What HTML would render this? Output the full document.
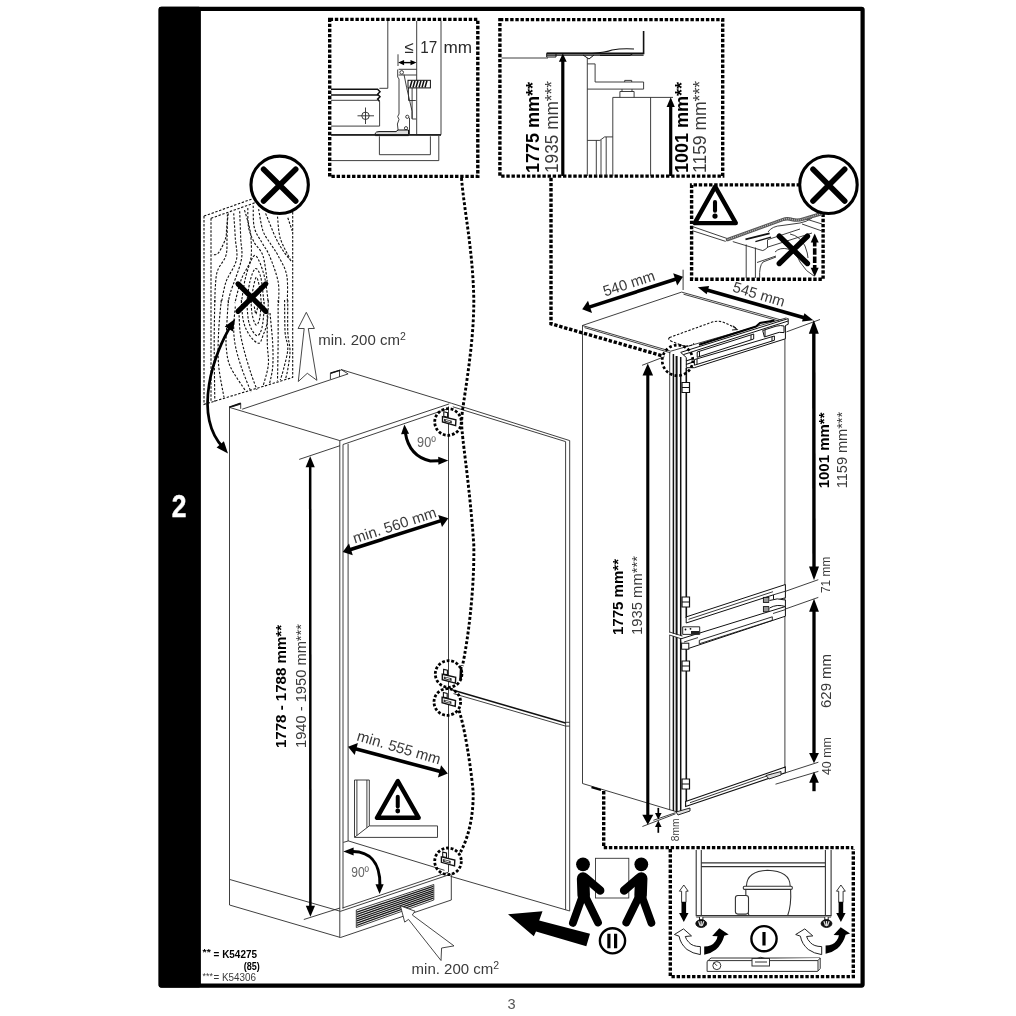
<!DOCTYPE html>
<html><head><meta charset="utf-8"><title>Installation dimensions</title>
<style>
html,body{margin:0;padding:0;background:#fff;}
body{width:1016px;height:1016px;overflow:hidden;}
svg{display:block;font-family:"Liberation Sans",sans-serif;will-change:transform;}
.t{fill:none;stroke:#2a2a2a;stroke-width:0.9;}
.t2{fill:none;stroke:#1a1a1a;stroke-width:1.4;}
.k{fill:none;stroke:#000;stroke-width:2.6;}
.ka{fill:none;stroke:#000;stroke-width:3.2;}
.dot{fill:none;stroke:#000;stroke-width:3.4;stroke-dasharray:3.4 1.75;}
.dotc{fill:none;stroke:#000;stroke-width:2.9;stroke-dasharray:2.9 2;}
.dsh{fill:none;stroke:#111;stroke-width:1.1;stroke-dasharray:2.4 1.6;}
.b{font-weight:bold;fill:#000;}
.g{fill:#3a3a3a;}
.w{fill:#fff;stroke:#2a2a2a;stroke-width:0.9;}
</style></head><body>
<svg width="1016" height="1016" viewBox="0 0 1016 1016">
<!-- FRAME -->
<g id="frame">
<rect x="158.6" y="6.7" width="42.3" height="980.8" rx="2" fill="#000"/>
<rect x="160.7" y="8.8" width="701.9" height="976.8" rx="1" fill="none" stroke="#000" stroke-width="4.2"/>
<text transform="translate(179.1,516.6) scale(0.84,1)" font-size="31.5" font-weight="bold" fill="#fff" stroke="#fff" stroke-width="0.5" text-anchor="middle">2</text>
<text x="511.6" y="1008.5" font-size="14.6" fill="#555" text-anchor="middle">3</text>
</g>
<g id="wood">
<g class="dsh">
<path d="M204,216.1 L292.7,184.5 M204,216.1 V404.4 L292.7,377.4 V187"/>
<path d="M211,218.3 L289.5,190.5 M211,218.3 V402"/>
<path d="M228.3,213.4 C228,215.7 227.1,223.3 226.7,227.5 C226.2,231.6 226.8,234.3 225.6,238.3 C224.4,242.3 221.3,248.6 219.6,251.3 C218,254 217.1,254 215.9,254.5 C214.6,255 212.7,254.3 212.1,254.3"/>
<path d="M227.4,214.5 C227.4,218.4 227.3,231.4 227,238.3 C226.8,245.1 227.5,250.2 225.9,255.6 C224.3,261 219.2,265.5 217.5,270.8 C215.7,276 215.8,281.6 215.3,287 C214.9,292.4 214.9,300.5 214.8,303.2"/>
<path d="M233.7,213.4 C234,217.5 234.9,230.5 235.3,238.3 C235.8,246 238,252.7 236.4,259.9 C234.9,267.2 228.7,274.4 226.1,281.6 C223.6,288.8 222.1,299.6 221.3,303.2"/>
<path d="M239.7,211.2 C239.8,215.7 240.5,230.2 240.7,238.3 C241,246.4 243,250.9 241.3,259.9 C239.6,269 232.6,285.2 230.5,292.4 C228.3,299.6 228.7,301.4 228.3,303.2"/>
<path d="M244.5,210.2 C245.3,212.7 247.8,220.6 248.9,225.3 C249.9,230 250.8,232.5 251,238.3 C251.3,244.1 252.1,253.1 250.5,259.9 C248.9,266.8 243.9,272.2 241.3,279.4 C238.7,286.6 235.9,299.3 234.8,303.2"/>
<path d="M247.8,208 C247.9,211.2 247.6,221.7 248.6,227.5 C249.7,233.2 251.9,237.9 254.3,242.6 C256.7,247.3 260.8,249.1 262.9,255.6 C265.1,262.1 266.5,277.3 267.3,281.6"/>
<path d="M253.2,205.8 C253.4,209.4 252.8,221.3 254.3,227.5 C255.7,233.6 259.3,237.9 261.9,242.6 C264.4,247.3 266.7,249.1 269.4,255.6 C272.1,262.1 276.6,273.6 278.1,281.6 C279.6,289.5 278.5,299.6 278.6,303.2"/>
<path d="M258.6,209.1 C259.3,212.7 261,224.9 262.9,230.7 C264.9,236.5 268,239.6 270.5,243.7 C273,247.8 275.4,250.4 278.1,255.6 C280.8,260.8 285.2,267.2 286.7,275.1 C288.3,283 287.2,298.5 287.3,303.2"/>
<path d="M265.6,213.4 C267.4,217.5 272.9,232 275.9,238.3 C278.9,244.6 281,247.5 283.5,251.3 C286,255.1 289.8,259.4 291.1,261"/>
<path d="M277.5,216.6 C278,220.3 278.2,231.3 280.3,238.3 C282.3,245.3 288.4,255.4 290,258.9"/>
<path d="M287.8,217.7 L292.2,230.7"/>
<path d="M241.3,303.2 C242,298.9 243.6,285 245.6,277.3 C247.6,269.5 251,259.6 253.2,256.7 C255.4,253.8 256.6,256.1 258.6,259.9 C260.6,263.7 263.5,272.2 265.1,279.4 C266.7,286.6 267.8,299.3 268.3,303.2"/>
<path d="M246.7,303.2 C247.2,299.6 248.5,287.4 249.9,281.6 C251.4,275.8 253.6,269.3 255.4,268.6 C257.2,267.9 259.3,271.5 260.8,277.3 C262.2,283 263.5,298.9 264,303.2"/>
<path d="M251,303.2 C251.4,300.7 252.3,292.4 253.2,288.1 C254.1,283.7 255.4,277.3 256.4,277.3 C257.5,277.3 258.9,283.7 259.7,288.1 C260.5,292.4 261,300.7 261.3,303.2"/>
<path d="M214.8,300 C214.7,307.2 214.2,326.3 214.2,343.3 C214.2,360.2 214.7,392 214.8,401.7"/>
<path d="M221.3,300 C220.8,305.4 219,321.6 218.6,332.5 C218.1,343.3 217.7,354.1 218.6,364.9 C219.5,375.8 223.1,392 224,397.4"/>
<path d="M228.3,300 C228,305.4 226.7,324.4 226.4,332.5 C226,340.6 225.7,342.9 226.4,348.7 C227,354.5 227.3,360.1 230.5,367.1 C233.7,374.1 243.1,386.9 245.6,390.9"/>
<path d="M235.3,306.5 C235.1,309.9 233.7,320.6 233.7,327.1 C233.7,333.5 234.1,338.8 235.3,345.5 C236.6,352.1 238.7,359.3 241.3,367.1 C243.9,374.9 249.4,387.8 251,392"/>
<path d="M239.1,315.2 C239.3,318 239.3,326.3 240.2,332.5 C241.1,338.6 242.7,345.1 244.5,351.9 C246.3,358.8 249,367.3 251,373.6 C253.1,379.9 256,387.1 257,389.8"/>
<path d="M267.3,310.8 C267.3,316.2 267.1,334.3 267.3,343.3 C267.4,352.3 269.1,357.7 268.3,364.9 C267.6,372.2 263.8,383 262.9,386.6"/>
<path d="M270,313 C270.4,318 272.2,334.3 272.7,343.3 C273.1,352.3 273.2,360.2 272.7,367.1 C272.1,374 270,381.5 269.4,384.4"/>
<path d="M278.1,300 C278.1,307.2 278.2,329.9 278.1,343.3 C278,356.7 277.6,374.4 277.5,380.6"/>
<path d="M284.6,300 C284.7,305.4 284.6,324.4 285.1,332.5 C285.7,340.6 288.1,342.6 287.8,348.7 C287.6,354.8 284.8,364 283.5,369.3 C282.2,374.5 280.8,378.3 280.3,380.1"/>
<path d="M287.8,300 C287.8,305.4 287.5,324 287.8,332.5 C288.2,340.9 290,344.7 290,350.9 C290,357 288.5,364.7 287.8,369.3 C287.1,373.9 286,376.9 285.7,378.5"/>
<path d="M241.3,300 C241.7,303.6 242,315.7 243.5,321.6 C244.9,327.6 247.4,332.1 249.9,335.7 C252.5,339.3 256.4,343.3 258.6,343.3 C260.8,343.3 261.5,339.3 262.9,335.7 C264.4,332.1 266.4,327.6 267.3,321.6 C268.2,315.7 268.2,303.6 268.3,300"/>
<path d="M246.7,300 C247,303.2 247.4,314.4 248.3,319.5 C249.2,324.5 250.6,327.6 252.1,330.3 C253.6,333 255.9,336.1 257.5,335.7 C259.1,335.4 260.8,332.3 261.9,328.1 C262.9,324 263.7,315.5 264,310.8 C264.4,306.1 264,301.8 264,300"/>
<path d="M251,300 C251.2,302.3 251.3,309.9 252.1,314.1 C252.9,318.2 254.6,324.2 255.9,324.9 C257.2,325.6 258.8,322.5 259.7,318.4 C260.6,314.2 261,303.1 261.3,300"/>
<path d="M254.3,306.5 C254.5,307.8 255.4,313.9 255.9,314.1 C256.4,314.2 257.3,308.7 257.5,307.6"/>
</g>
<circle cx="279.65" cy="184.8" r="28.7" fill="#fff" stroke="#000" stroke-width="3.1"/>
<path d="M263.6,169.2 L295.7,201 M295.7,169.2 L263.6,201" stroke="#000" stroke-width="5.6" stroke-linecap="round"/>
<path d="M238,283.9 L265.8,311.3 M265.8,283.9 L238,311.3" stroke="#000" stroke-width="5.2" stroke-linecap="round"/>
<path d="M232,324 C214,352 192,415 223.5,448" fill="none" stroke="#000" stroke-width="2.7"/>
<path d="M235.2,318.8 L232.9,331.5 L224.8,326.5 z" fill="#000"/>
<path d="M228,453.5 L216.6,447.4 L223.9,441.3 z" fill="#000"/>
<path d="M306.3,312.3 L314.4,328.5 H308.3 L316.9,380.3 L307.3,373.3 L298.3,381.5 L304.2,328.5 H298.1 z" fill="#fff" stroke="#333" stroke-width="0.9"/>
<text class="g" x="318.2" y="344.8" font-size="15">min. 200 cm<tspan font-size="10.5" dy="-5">2</tspan></text>
</g>
<g id="cabinet">
<g class="t">
<path d="M242.2,409.2 L348.1,373.9 M341,369.5 L451.6,403.3"/>
<path d="M229.2,407.3 L339.8,440.6 L449.2,403.9"/>
<path d="M343,444.5 L448,408.7"/>
<path d="M229.2,407.3 L240.7,403.3 V408.8 M232.7,406.6 L240.7,404.2"/>
<path d="M330.4,379.3 V373.3 L340.4,370.1 M339.5,370.4 V377 M341,369.5 L348.1,373.9"/>
<path d="M229.2,407.3 L240.7,403.3 M330.4,373.3 L340.4,370.1" stroke="#111" stroke-width="1.5"/>
<path d="M229.5,407.3 V905 L340.5,937.5 L451.3,900 V874.5"/>
<path d="M229.8,879.5 L340.5,911.3 L451.3,874"/>
<path d="M339.8,440.6 V937.5"/>
<path d="M343,444.5 V908.5"/>
<path d="M348.1,443.8 V841 L343.3,842.4"/>
<path d="M342.5,908 L448,872.3"/>
<path d="M448.5,406.5 V872.3"/>
<path d="M348,840.8 L444.5,870.3"/>
</g>
<g class="t">
<path d="M451.6,403.3 L569.7,440.6 V911 L450.5,876.3"/>
<path d="M452.8,406.8 L565.6,441.6 V909.8"/>
<path d="M453.5,693.6 L565.6,726.1 M565.6,722.3 H569.7 M565.6,726.1 H569.7"/>
<path d="M452.5,690 L565.6,723" stroke="#111" stroke-width="1.5"/>
</g>
<path class="t" d="M299.2,459.4 L340,445.7 M303.8,919.5 L340,908"/>
<path d="M310.2,456.2 L305.6,467.2 L314.8,467.2 z" fill="#000"/>
<path d="M310.4,916.8 L305.8,905.8 L315,905.8 z" fill="#000"/>
<path d="M310.2,466.2 L310.4,906.8" stroke="#000" stroke-width="2.5" fill="none"/>
<text class="b" transform="translate(286.3,748) rotate(-90)" font-size="15" textLength="123" lengthAdjust="spacingAndGlyphs">1778 - 1788 mm**</text>
<text class="g" transform="translate(306,748) rotate(-90)" font-size="15" textLength="124" lengthAdjust="spacingAndGlyphs">1940 - 1950 mm***</text>
<path d="M342.7,552 L352.8,555.3 L349,543.4 z" fill="#000"/>
<path d="M448.3,518.3 L442,526.9 L438.2,515 z" fill="#000"/>
<path d="M349.9,549.7 L441.1,520.6" stroke="#000" stroke-width="3.6" fill="none"/>
<text class="g" transform="translate(354.8,543.6) rotate(-18)" font-size="15" textLength="87" lengthAdjust="spacingAndGlyphs">min. 560 mm</text>
<path d="M348,746.8 L354.7,755.1 L357.9,743 z" fill="#000"/>
<path d="M447.8,773.6 L437.9,777.4 L441.1,765.3 z" fill="#000"/>
<path d="M355.3,748.8 L440.5,771.6" stroke="#000" stroke-width="3.6" fill="none"/>
<text class="g" transform="translate(356,740.3) rotate(16.3)" font-size="15" textLength="86.5" lengthAdjust="spacingAndGlyphs">min. 555 mm</text>
<path d="M405.3,432.5 C408,450 417,458 430.4,461 L439,460.8" fill="none" stroke="#000" stroke-width="3"/>
<path d="M404.4,424.4 L409.1,433.7 L401.1,434.3 z" fill="#000"/>
<path d="M448.3,460.5 L438.4,464.7 L438.2,456.7 z" fill="#000"/>
<text x="417.1" y="446.6" font-size="14" fill="#666" textLength="18.7" lengthAdjust="spacingAndGlyphs">90º</text>
<path d="M353,851.5 C368,851.8 380.3,860.5 379.9,885" fill="none" stroke="#000" stroke-width="3"/>
<path d="M343.3,851.5 L353.6,847.5 L353.6,855.5 z" fill="#000"/>
<path d="M379.6,894 L375.5,884.3 L383.7,884.3 z" fill="#000"/>
<text x="351.2" y="876.9" font-size="14" fill="#666" textLength="17.8" lengthAdjust="spacingAndGlyphs">90º</text>
<path d="M443.8,411.8 l3.8,0.9 v4.6 l-3.8,-0.9 z" fill="#fff" stroke="#111" stroke-width="1.1"/>
<path d="M442.5,416.6 L455.9,419.8 L455.6,425.6 L442.5,422 z" fill="#fff" stroke="#111" stroke-width="1.4"/>
<path d="M444,418.8 L451.8,420.7 L451.8,423.4 L444,421.4 z" fill="#333"/>
<path d="M445.8,420.4 L450.2,421.6" stroke="#fff" stroke-width="0.9"/>
<circle cx="448" cy="422" r="13.3" fill="none" stroke="#000" stroke-width="2.8" stroke-dasharray="2.8 1.84"/>
<path d="M443.6,669.4 l3.8,0.9 v4.6 l-3.8,-0.9 z" fill="#fff" stroke="#111" stroke-width="1.1"/>
<path d="M442.3,674.2 L455.7,677.4 L455.4,683.2 L442.3,679.6 z" fill="#fff" stroke="#111" stroke-width="1.4"/>
<path d="M443.8,676.4 L451.6,678.3 L451.6,681 L443.8,679 z" fill="#333"/>
<path d="M445.6,678 L450,679.2" stroke="#fff" stroke-width="0.9"/>
<circle cx="448.6" cy="674" r="13.3" fill="none" stroke="#000" stroke-width="2.8" stroke-dasharray="2.8 1.84"/>
<path d="M443.4,692.5 l3.8,0.9 v4.6 l-3.8,-0.9 z" fill="#fff" stroke="#111" stroke-width="1.1"/>
<path d="M442.1,697.3 L455.5,700.5 L455.2,706.3 L442.1,702.7 z" fill="#fff" stroke="#111" stroke-width="1.4"/>
<path d="M443.6,699.5 L451.4,701.4 L451.4,704.1 L443.6,702.1 z" fill="#333"/>
<path d="M445.4,701.1 L449.8,702.3" stroke="#fff" stroke-width="0.9"/>
<circle cx="447.3" cy="702" r="13.3" fill="none" stroke="#000" stroke-width="2.8" stroke-dasharray="2.8 1.84"/>
<path d="M442.7,852.1 l3.8,0.9 v4.6 l-3.8,-0.9 z" fill="#fff" stroke="#111" stroke-width="1.1"/>
<path d="M441.4,856.9 L454.8,860.1 L454.5,865.9 L441.4,862.3 z" fill="#fff" stroke="#111" stroke-width="1.4"/>
<path d="M442.9,859.1 L450.7,861 L450.7,863.7 L442.9,861.7 z" fill="#333"/>
<path d="M444.7,860.7 L449.1,861.9" stroke="#fff" stroke-width="0.9"/>
<circle cx="448" cy="861.3" r="13.3" fill="none" stroke="#000" stroke-width="2.8" stroke-dasharray="2.8 1.84"/>
<g class="t">
<path d="M354.5,780 V837.4 H437.5 V825.9 H369.3 V780 z" fill="#fff"/>
<path d="M356.9,780 V835.5 M354.8,837.1 L369.3,825.9 M366.9,780 V827.8"/>
</g>
<path d="M397.8,781.1 L377,817.8 H418.7 z" fill="#fff" stroke="#000" stroke-width="4.4" stroke-linejoin="round"/>
<path d="M397.75,796.7 V806.4" stroke="#000" stroke-width="4" stroke-linecap="round"/><circle cx="397.75" cy="811" r="2.4" fill="#000"/>
<g class="t">
<path d="M356.3,910 L433.8,884.5 V900 L356.3,927.5 z" fill="#fff"/>
</g>
<path d="M356.8,912.2 L433.3,886.4" stroke="#1a1a1a" stroke-width="1.3"/>
<path d="M356.8,914.4 L433.3,888.4" stroke="#1a1a1a" stroke-width="1.3"/>
<path d="M356.8,916.6 L433.3,890.3" stroke="#1a1a1a" stroke-width="1.3"/>
<path d="M356.8,918.8 L433.3,892.2" stroke="#1a1a1a" stroke-width="1.3"/>
<path d="M356.8,920.9 L433.3,894.2" stroke="#1a1a1a" stroke-width="1.3"/>
<path d="M356.8,923.1 L433.3,896.1" stroke="#1a1a1a" stroke-width="1.3"/>
<path d="M356.8,925.3 L433.3,898.1" stroke="#1a1a1a" stroke-width="1.3"/>
<path d="M400.4,905.8 L415,911.2 L412.3,915 L454,945.9 L441.6,948 L441,960.5 L408.5,919.4 L404.7,922.1 z" fill="#fff" stroke="#333" stroke-width="0.9" stroke-linejoin="miter"/>
<text class="g" x="411.6" y="973.6" font-size="15">min. 200 cm<tspan font-size="10.5" dy="-5">2</tspan></text>
<text class="b" x="202.6" y="955" font-size="8.5" textLength="8.2" lengthAdjust="spacingAndGlyphs">**</text>
<text class="b" x="213.6" y="957.7" font-size="11" textLength="43.4" lengthAdjust="spacingAndGlyphs">= K54275</text>
<text class="b" x="243.7" y="970.2" font-size="11" textLength="16.1" lengthAdjust="spacingAndGlyphs">(85)</text>
<text class="g" x="202.6" y="978.6" font-size="8.5" textLength="10.4" lengthAdjust="spacingAndGlyphs">***</text>
<text class="g" x="213.4" y="981" font-size="10" textLength="42.5" lengthAdjust="spacingAndGlyphs">= K54306</text>
</g>
<g id="fridge">
<g class="t">
<path d="M582.3,325.5 L681.6,292.1 L787.3,321.7"/>
<path d="M582.3,325.5 L670.7,351.2 L786.4,317.9"/>
<path d="M584.5,327.6 L670.5,352.8"/>
<path d="M683.5,294.2 L779,321"/>
<path d="M582.5,325.5 V783.5 L677,811.9"/>
<path d="M591.5,787.2 L601,790" stroke="#000" stroke-width="2"/>
<path d="M683.1,269.7 V290"/>
<path d="M669.7,352 V810"/>
<path d="M784.9,322 V767.5"/>
</g>
<g fill="none" stroke="#111">
<path d="M673.4,354 V811" stroke-width="1.5"/>
<path d="M676.6,356 V812" stroke-width="2"/>
<path d="M680.7,357 V812.5" stroke-width="1.5"/>
<path d="M686.3,368 V618 M686.3,648.6 V801.4" stroke-width="1.6"/>
</g>
<path d="M668.5,633.5 L682,637.5" stroke="#fff" stroke-width="2.2"/><path d="M669.5,632 L682.5,636 M669.5,635 L682.5,639.2" class="t"/>
<path d="M680.7,352.4 L788.2,318.6 V324.3 L785.4,325.5 V338.8 L694.4,367.7 L686.3,367.7 L686.3,357.5 z" fill="#fff" stroke="#111" stroke-width="1"/>
<path d="M683.4,354.6 L788.2,321" stroke="#111" stroke-width="1" fill="none"/>
<path d="M699,344.8 L756,326.5 L760,323 L774.4,320.4" stroke="#000" stroke-width="2" fill="none"/>
<path d="M697.2,352 L753.7,334 V339 L697.2,357.3 z M699.5,351.3 V356.5 M751,335 V340" fill="#fff" stroke="#111" stroke-width="1"/>
<path d="M694.4,359.6 L774.4,336 V340.3 L694.4,365.2 z M697,358.9 V364.4 M772,336.8 V341" fill="#fff" stroke="#111" stroke-width="1"/>
<path d="M762.7,330.5 L776,326.2 Q781,325 784,326 L784,332.6 Q779,331.6 775,333.6 L764.4,337 z M765,330 V336.5" fill="#fff" stroke="#111" stroke-width="1"/>
<path d="M686,361 L694,358.3 M686,364.5 L694,361.8" stroke="#111" stroke-width="1.2" fill="none"/>
<path d="M686.2,616.9 L785.4,584.5 V597.8 L773.5,600.8 V594.8 L686.2,623 z" fill="#fff" stroke="#111" stroke-width="1"/>
<path d="M688.5,619.3 L773,591.7 M773.5,594.8 L785.4,591.2" stroke="#222" stroke-width="0.9" fill="none"/>
<rect x="763.4" y="597.4" width="5.5" height="5" fill="#999" stroke="#111" stroke-width="0.9"/>
<rect x="763.4" y="606.6" width="5.5" height="5.2" fill="#999" stroke="#111" stroke-width="0.9"/>
<path d="M769.5,600.5 Q777,597.5 785.4,600 V606.5 Q777,603.8 769.5,608" fill="#fff" stroke="#111" stroke-width="1"/>
<path d="M680.7,638.9 L785.4,606.5 V616.2 L686.2,649.2 L681.4,647 z" fill="#fff" stroke="#111" stroke-width="1"/>
<path d="M699.3,640.3 L772.3,616.8 V620.3 L699.3,643.8 z" fill="#fff" stroke="#111" stroke-width="0.9"/>
<path d="M684,642 L698,637.6 M773,613.5 L785.4,609.6" stroke="#222" stroke-width="0.9" fill="none"/>
<path d="M682.7,626.8 h17 v7.6 h-17 z" fill="#fff" stroke="#111" stroke-width="0.9"/><path d="M691,631 h8.5 v3 h-8.5 z" fill="#222"/><circle cx="685.5" cy="629.5" r="0.9" fill="#111"/><circle cx="690.5" cy="628.8" r="0.9" fill="#111"/>
<rect x="681.6" y="643.2" width="7.2" height="6" fill="#fff" stroke="#111" stroke-width="1"/>
<path d="M685.6,801.4 L785.3,767.1 V772.8 L685.6,806.5 z" fill="#fff" stroke="#111" stroke-width="1.1"/>
<path d="M690,802.7 L772,774.2" stroke="#222" stroke-width="0.9" fill="none"/>
<path d="M766,775.5 L781,771.5 V775 L769,779 z" fill="#ddd" stroke="#111" stroke-width="0.9"/>
<path d="M676,812 L690,808 L690,811 L678,815 z" fill="#ddd" stroke="#111" stroke-width="0.9"/>
<path d="M682,382.5 h7.5 v10 h-7.5 z M682,387.5 h7.5" fill="#fff" stroke="#111" stroke-width="1.2"/>
<path d="M682,597 h7.5 v10 h-7.5 z M682,602 h7.5" fill="#fff" stroke="#111" stroke-width="1.2"/>
<path d="M682,661 h7.5 v10 h-7.5 z M682,666 h7.5" fill="#fff" stroke="#111" stroke-width="1.2"/>
<path d="M682,779 h7.5 v10 h-7.5 z M682,784 h7.5" fill="#fff" stroke="#111" stroke-width="1.2"/>
<circle cx="677.5" cy="360.4" r="15.3" fill="none" stroke="#000" stroke-width="2.7" stroke-dasharray="2.7 2.15"/>
<path class="dsh" d="M669.5,337.5 L711,322.5 Q718,320 724,322.5 L736,328 M669.5,337.5 Q667,339.5 672,341.5 L682,345.5 Q690,347 694,343.5" />
<path d="M733,326 l4,3.5 l-5,0.5" fill="none" stroke="#222" stroke-width="1.2"/>
<g class="t">
<path d="M642.1,365.3 L664.5,356.7 M642.4,826.5 L675.5,813.8"/>
<path d="M786.4,331.9 L820,319.5"/>
<path d="M784.9,591.5 L818.3,579.7 M784.9,609.2 L818.3,597.4 M785.5,772.8 L818.4,762.2 M775.5,784.2 L818.4,771.4"/>
<path d="M653.4,820.3 L675.5,812.7"/>
</g>
<path d="M647.8,363.6 L642.5,375.6 L653.1,375.6 z" fill="#000"/>
<path d="M647.8,824.8 L642.3,814.8 L653.3,814.8 z" fill="#000"/>
<path d="M647.8,374.6 L647.8,815.8" stroke="#000" stroke-width="3.1" fill="none"/>
<path d="M813.8,320 L808.8,333.8 L818.8,333.8 z" fill="#000"/>
<path d="M814,580.2 L809,566.4 L819,566.4 z" fill="#000"/>
<path d="M813.8,332.8 L814,567.4" stroke="#000" stroke-width="3.4" fill="none"/>
<path d="M814,598.8 L809.1,611.8 L818.9,611.8 z" fill="#000"/>
<path d="M814,763.2 L809.1,753 L818.9,753 z" fill="#000"/>
<path d="M814,610.8 L814,754" stroke="#000" stroke-width="3.3" fill="none"/>
<path d="M814,771.8 L809.2,782.8 L818.8,782.8 z" fill="#000"/>
<path d="M814,781.8 L814,791.2" stroke="#000" stroke-width="3.3" fill="none"/>
<path d="M658.3,819.4 L655,812.9 L661.6,812.9 z" fill="#000"/>
<path d="M658.3,807.9 L658.3,813.9" stroke="#000" stroke-width="1.7" fill="none"/>
<path d="M658.3,820.6 L661.6,827.1 L655,827.1 z" fill="#000"/>
<path d="M658.3,832.8 L658.3,826.1" stroke="#000" stroke-width="1.7" fill="none"/>
<path d="M582.2,309.3 L592,312.9 L588,300.7 z" fill="#000"/>
<path d="M683,276.8 L677.2,285.4 L673.2,273.2 z" fill="#000"/>
<path d="M589.1,307.1 L676.1,279" stroke="#000" stroke-width="3.6" fill="none"/>
<path d="M697.8,287.3 L706.7,294.3 L709.1,286.1 z" fill="#000"/>
<path d="M813.3,320.3 L802,321.5 L804.4,313.3 z" fill="#000"/>
<path d="M706.9,289.9 L804.2,317.7" stroke="#000" stroke-width="3.6" fill="none"/>
<text class="g" transform="translate(605,296.5) rotate(-18)" font-size="15" textLength="53.5" lengthAdjust="spacingAndGlyphs">540 mm</text>
<text class="g" transform="translate(731.8,291.3) rotate(17)" font-size="15" textLength="53.6" lengthAdjust="spacingAndGlyphs">545 mm</text>
<text class="b" transform="translate(623.3,635) rotate(-90)" font-size="15" textLength="76" lengthAdjust="spacingAndGlyphs">1775 mm**</text>
<text class="g" transform="translate(642,635) rotate(-90)" font-size="15" textLength="79" lengthAdjust="spacingAndGlyphs">1935 mm***</text>
<text class="b" transform="translate(828.5,488.3) rotate(-90)" font-size="15" textLength="75.8" lengthAdjust="spacingAndGlyphs">1001 mm**</text>
<text class="g" transform="translate(846.9,488.3) rotate(-90)" font-size="15" textLength="76.5" lengthAdjust="spacingAndGlyphs">1159 mm***</text>
<text class="g" transform="translate(829.9,593) rotate(-90)" font-size="12" textLength="36.3" lengthAdjust="spacingAndGlyphs">71 mm</text>
<text class="g" transform="translate(830.6,708) rotate(-90)" font-size="15" textLength="54" lengthAdjust="spacingAndGlyphs">629 mm</text>
<text class="g" transform="translate(830.6,775.1) rotate(-90)" font-size="12.4" textLength="37.9" lengthAdjust="spacingAndGlyphs">40 mm</text>
<text class="g" transform="translate(678.9,841.3) rotate(-90)" font-size="10" textLength="22.7" lengthAdjust="spacingAndGlyphs">8mm</text>
</g>
<g id="bottom">
<rect x="595.5" y="858.3" width="33.3" height="39.7" fill="#fff" stroke="#333" stroke-width="0.9"/>
<circle cx="583" cy="864.3" r="6.9" fill="#000"/>
<path d="M583.2,894.3 L572.9,922.9 M584.2,894.3 L598,922.5" fill="none" stroke="#000" stroke-width="7.8" stroke-linecap="round" stroke-linejoin="round"/>
<path d="M583.1,878.6 L583.7,895.3" fill="none" stroke="#000" stroke-width="12.5" stroke-linecap="round"/>
<path d="M586.7,878.8 L600.2,890.5" fill="none" stroke="#000" stroke-width="8.4" stroke-linecap="round"/>
<circle cx="641.3" cy="864.3" r="6.9" fill="#000"/>
<path d="M641.1,894.3 L651.4,922.9 M640.1,894.3 L626.3,922.5" fill="none" stroke="#000" stroke-width="7.8" stroke-linecap="round" stroke-linejoin="round"/>
<path d="M641.2,878.6 L640.6,895.3" fill="none" stroke="#000" stroke-width="12.5" stroke-linecap="round"/>
<path d="M637.6,878.8 L624.1,890.5" fill="none" stroke="#000" stroke-width="8.4" stroke-linecap="round"/>
<path d="M508,914.3 L542.5,911.3 L539.2,920.6 L590,933.8 L586.3,946.3 L536,931.5 L533.8,936.3 z" fill="#000"/>
<circle cx="612.5" cy="940.8" r="12.6" fill="#fff" stroke="#000" stroke-width="2.4"/>
<path d="M608.9,933.8 V948.2 M615.6,933.8 V948.2" stroke="#000" stroke-width="3.2"/>
<path class="dot" d="M603.7,791 V847.6 H853.3"/>
<path class="dot" d="M670.3,849 V976.6 H853.3 V849"/>
<g fill="none" stroke="#333" stroke-width="1.1">
<path d="M696.2,850 V916.2 M701.3,850 V915.6 M825.4,850 V915.6 M831.1,850 V916.2"/>
<path d="M701.3,862.9 H825.4 M701.3,866.6 H825.4"/>
<path d="M696.2,915.5 H831.1 M696.2,917 H831.1"/>
<path d="M746.4,886.2 Q747,871 767.5,870.3 Q790,871 790.2,886.2"/>
<rect x="743.3" y="886.2" width="49" height="3.2" rx="1.2"/>
<path d="M745.8,889.4 Q745.5,905 748.9,915.5 M790.6,889.4 Q791.5,905 787.7,915.5"/>
<rect x="735.4" y="895.5" width="13.1" height="18.6" rx="2.5" fill="#fff"/>
</g>
<path d="M699.5,917 v3 h3.4 v-3" fill="#fff" stroke="#222" stroke-width="1"/>
<ellipse cx="701.2" cy="923.6" rx="5.4" ry="3.9" fill="#111" stroke="#000" stroke-width="0.8"/>
<path d="M698.6,921.3 l1.6,4.5 M703.8,921.3 l-1.6,4.5 M701.2,921 v5.2" stroke="#ddd" stroke-width="1.2" fill="none"/>
<path d="M824.8,917 v3 h3.4 v-3" fill="#fff" stroke="#222" stroke-width="1"/>
<ellipse cx="826.5" cy="923.6" rx="5.4" ry="3.9" fill="#111" stroke="#000" stroke-width="0.8"/>
<path d="M823.9,921.3 l1.6,4.5 M829.1,921.3 l-1.6,4.5 M826.5,921 v5.2" stroke="#ddd" stroke-width="1.2" fill="none"/>
<path d="M683.8,885 l4.4,6.2 h-2.2 v11 h-4.4 v-11 h-2.2 z" fill="#fff" stroke="#222" stroke-width="0.9"/>
<path d="M681.5,902 h4.6 v11 h2.4 l-4.7,9 l-4.7,-9 h2.4 z" fill="#000"/>
<path d="M840.9,885 l4.4,6.2 h-2.2 v11 h-4.4 v-11 h-2.2 z" fill="#fff" stroke="#222" stroke-width="0.9"/>
<path d="M838.6,902 h4.6 v11 h2.4 l-4.7,9 l-4.7,-9 h2.4 z" fill="#000"/>
<path d="M704.2,946.6 Q712,946.3 715.3,941.5 Q717.2,939 717.5,936.2 L712.2,935.9 L719.3,928.3 L728.7,934.5 L724.3,935.7 Q722,944 716,949.5 Q711,953.5 704.2,954.8 z" fill="#000"/>
<path d="M700.4,946.6 Q692.5,946.5 689,942.5 Q686,939.5 685.3,936.5 L691.5,935.9 L683.5,928.9 L674.4,934.5 L679.1,936.2 Q680.5,944 687,949.5 Q692.5,953.5 700.4,954.6 z" fill="#fff" stroke="#222" stroke-width="1"/>
<path d="M704.2,946.6 Q712,946.3 715.3,941.5 Q717.2,939 717.5,936.2 L712.2,935.9 L719.3,928.3 L728.7,934.5 L724.3,935.7 Q722,944 716,949.5 Q711,953.5 704.2,954.8 z" fill="#000" transform="translate(121.4,-1)"/>
<path d="M700.4,946.6 Q692.5,946.5 689,942.5 Q686,939.5 685.3,936.5 L691.5,935.9 L683.5,928.9 L674.4,934.5 L679.1,936.2 Q680.5,944 687,949.5 Q692.5,953.5 700.4,954.6 z" fill="#fff" stroke="#222" stroke-width="1" transform="translate(121.3,0)"/>
<circle cx="764" cy="938.7" r="12.6" fill="#fff" stroke="#000" stroke-width="2.4"/>
<path d="M764,932 V945.5" stroke="#000" stroke-width="3.2"/>
<g fill="#fff" stroke="#333" stroke-width="1">
<path d="M708.5,960.2 L711,958 H820.2 V968.5 L817.7,971.4 H707.1 V961.5 z"/>
<path d="M707.5,960.6 H818 L820.2,958 M818,960.6 V971"/>
<rect x="752" y="958.5" width="17.5" height="7.5"/>
<path d="M755,962 H767 M757,958.5 q3.5,-2.5 8,0" fill="none"/>
<circle cx="716.8" cy="965.6" r="4"/>
<path d="M714,962.8 l3,3" fill="none"/>
</g>
</g>
<g id="boxes">
<!-- top-left hinge detail box -->
<rect class="dot" x="329.7" y="19.4" width="148.1" height="157"/>
<g class="t">
<path d="M387.8,21 V88.3 H379.4"/>
<path d="M416.7,21 V134.7"/>
<path d="M441,21 V134.7 H416"/>
<path d="M331,100.3 H377.8 M379.6,101.5 V126.1 H331"/>
<path d="M331,135.4 H441"/>
<path d="M379.4,136.3 V154.7 H430.4 V136.3"/>
<path d="M331,160.6 H438.8 V136"/>
<circle cx="365.5" cy="115.8" r="3.7"/>
<path d="M357.5,115.8 H374 M365.5,107.5 V124"/>
<path d="M398,54.3 V66"/>
<path d="M397.7,69.5 V77 L399,79 V114 L397.7,116.5 L399,119.5 L397.4,124 L398.2,131"/>
<path d="M398.6,69.3 H416.6 M398.6,75 H416.6"/>
<circle cx="401.7" cy="72.4" r="1.8"/>
<path d="M404,74.5 L406.7,87.8 L412.1,111.3 V118.6 M409.5,117.8 V134.5"/>
<path d="M408.5,87.8 V100.5 H415.8 M412.1,87.8 V119 H416.2"/>
<circle cx="407.3" cy="116.8" r="1.6"/><circle cx="406" cy="128.2" r="1.6"/>
</g>
<path d="M331,89.3 H377.6 L380,91.8 L377.6,94.2 L380,96.7 L377.6,99.1 L379.6,101.5" fill="none" stroke="#111" stroke-width="1.5"/><path d="M331,95.1 H378" fill="none" stroke="#111" stroke-width="1.5"/>
<path d="M375.3,133.2 Q376,131.6 379,131.6 H396 L398,130 H408.5 V135.6 H375.3 z" fill="#ddd" stroke="#111" stroke-width="1"/>
<path d="M331,134.6 H441" stroke="#222" stroke-width="1.3" fill="none"/>
<rect x="408" y="80.3" width="22.4" height="7.6" fill="#fff" stroke="#111" stroke-width="1"/>
<path d="M410,87.5 l2,-7 M413,87.5 l2,-7 M416,87.5 l2,-7 M419,87.5 l2,-7 M422,87.5 l2,-7 M425,87.5 l2,-7" stroke="#111" stroke-width="1.5" fill="none"/>
<path d="M401,62.6 H414" stroke="#000" stroke-width="1.4"/>
<path d="M398.1,62.6 l6,-2.7 v5.4 z M416.5,62.6 l-6,-2.7 v5.4 z" fill="#000"/>
<text x="404.2" y="52.9" font-size="16.5" fill="#2a2a2a" textLength="9.2" lengthAdjust="spacingAndGlyphs">≤</text>
<text x="420.3" y="52.9" font-size="16.8" fill="#2a2a2a" textLength="17" lengthAdjust="spacingAndGlyphs">17</text>
<text x="443.4" y="52.9" font-size="16.8" fill="#2a2a2a" textLength="28.6" lengthAdjust="spacingAndGlyphs">mm</text>

<!-- top-right height detail box -->
<rect class="dot" x="499.9" y="19.6" width="222.8" height="156.5"/>
<g class="t">
<path d="M501.5,58 H548"/>
<path d="M587.3,58 V176"/>
<path d="M587.3,63.9 H595.1 V82 H643.6 V89.1 H587.3"/>
<path d="M624.7,82 V80.4 H631.7 V82"/>
<path d="M619.9,97.4 V91.5 H634.1 V97.4 M622,91.5 V89.1 M632,91.5 V89.1"/>
<path d="M612.8,176 V97.4 H673 M650.6,97.4 V176"/>
<path d="M587.3,140.4 H599.9 L604.6,136.9 H612.8"/>
<path d="M596.3,140.4 V176 M601,140 V176 M606.2,137 V176"/>
</g>
<path d="M546.7,53.2 H592 Q606,52.5 612,50 Q622,48.2 634,49" fill="none" stroke="#111" stroke-width="1.1"/>
<path d="M546.7,53.4 H643.6 V31 " fill="none" stroke="#111" stroke-width="1.6"/>
<path d="M546.7,53.4 V57 H556 M556,53.4 V57 M583,55 L589,59 L594,55 M600,55.4 H630 L633,53.4" fill="none" stroke="#111" stroke-width="1"/>
<path d="M547,55.2 H643.6" stroke="#111" stroke-width="1.2" fill="none"/>
<path d="M562.8,176 V60" stroke="#000" stroke-width="3.2" fill="none"/>
<path d="M562.8,53.6 l-3.9,8.2 h7.8 z" fill="#000"/>
<path d="M670.7,176 V104" stroke="#000" stroke-width="3.2" fill="none"/>
<path d="M670.7,97.2 l-4.1,9.8 h8.2 z" fill="#000"/>
<text class="b" transform="translate(538.9,173) rotate(-90)" font-size="18" textLength="91" lengthAdjust="spacingAndGlyphs">1775 mm**</text>
<text class="g" transform="translate(558.3,173) rotate(-90)" font-size="17.5" textLength="92" lengthAdjust="spacingAndGlyphs">1935 mm***</text>
<text class="b" transform="translate(688,173) rotate(-90)" font-size="18" textLength="91" lengthAdjust="spacingAndGlyphs">1001 mm**</text>
<text class="g" transform="translate(706.2,173) rotate(-90)" font-size="17.5" textLength="92" lengthAdjust="spacingAndGlyphs">1159 mm***</text>
</g>

<g id="curves">
<path class="dotc" d="M461.5,178 C464,210 473,250 473.8,300 C474,340 466,385 462.3,412 C461.5,420 461.5,426 462.3,433 C463.5,448 470,490 473.8,545 C474.5,590 468,640 462.4,666"/>
<path d="M461.2,667 L460.6,679" stroke="#000" stroke-width="2.6" fill="none"/>
<path class="dotc" d="M459,710.5 C464,725 470,760 473,790 C474,810 470,835 460.5,852"/>
<path class="dot" d="M551,177.8 V323.8 L662,355.7"/>
<path class="dot" d="M800,184.9 H691.6 V279.3 H823.1 V214"/>
</g>
<g id="warn">
<g class="t">
<path d="M692.4,226.5 L727.1,238.5 M692.4,230.7 L725.7,241.4"/>
<path d="M732.8,241.6 L760,249.8 Q763,251.5 765,249.5 L768,247 L812,233"/>
<path d="M746.2,244.5 V278 M755.4,247.5 V278"/>
<path d="M767.5,247.5 V239.5 M768,239.5 L800,229"/>
<path d="M759.7,278 Q759,266 763,262 L776,257"/>
<path d="M757,262.5 L776,256"/>
<path d="M768,232 Q772,226 782,225.5 L800,223 Q806,222 812,218"/>
<path d="M775,252 Q780,247 788,249 Q797,254 800,262 Q806,272 814,276"/>
<path d="M790,234 Q800,236 805,246 Q808,254 808,258"/>
<path d="M802,224 L822,231 M806,219 L822,224"/>
</g>
<path d="M727.5,239.6 L783,219.5 Q787,218 792,219.5 Q798,221 803,219 L822,213.5" fill="none" stroke="#555" stroke-width="3.4" stroke-linecap="round"/>
<path d="M727.5,239.6 L783,219.5 Q787,218 792,219.5 Q798,221 803,219 L822,213.5" fill="none" stroke="#bbb" stroke-width="1.4" stroke-dasharray="1 1"/>
<path d="M745.5,239.3 L769.6,233.4" stroke="#111" stroke-width="1.8"/>
<path d="M755.4,241.6 L771,237.1" stroke="#111" stroke-width="1.5"/>
<path d="M779.3,236.2 L807.4,263.5 M807.4,236.2 L779.3,263.5" stroke="#000" stroke-width="5.4" stroke-linecap="round"/>
<path d="M814.7,240 V270" stroke="#000" stroke-width="3.6" stroke-dasharray="6.5 1.8" fill="none"/>
<path d="M814.7,233.6 L818.7,242.6 L810.7,242.6 z" fill="#000"/>
<path d="M814.7,276.8 L810.7,267.8 L818.7,267.8 z" fill="#000"/>
<path d="M715.2,186.7 L694.7,223.1 H735.8 z" fill="#fff" stroke="#000" stroke-width="4.4" stroke-linejoin="round"/>
<path d="M715,202.1 V210.8" stroke="#000" stroke-width="4.1" stroke-linecap="round"/><circle cx="715" cy="216.1" r="2.6" fill="#000"/>
<circle cx="828.45" cy="184.8" r="28.75" fill="#fff" stroke="#000" stroke-width="3.1"/>
<path d="M813,169.3 L844.7,201 M844.7,169.3 L813,201" stroke="#000" stroke-width="5.6" stroke-linecap="round"/>
</g>
</svg>
</body></html>
